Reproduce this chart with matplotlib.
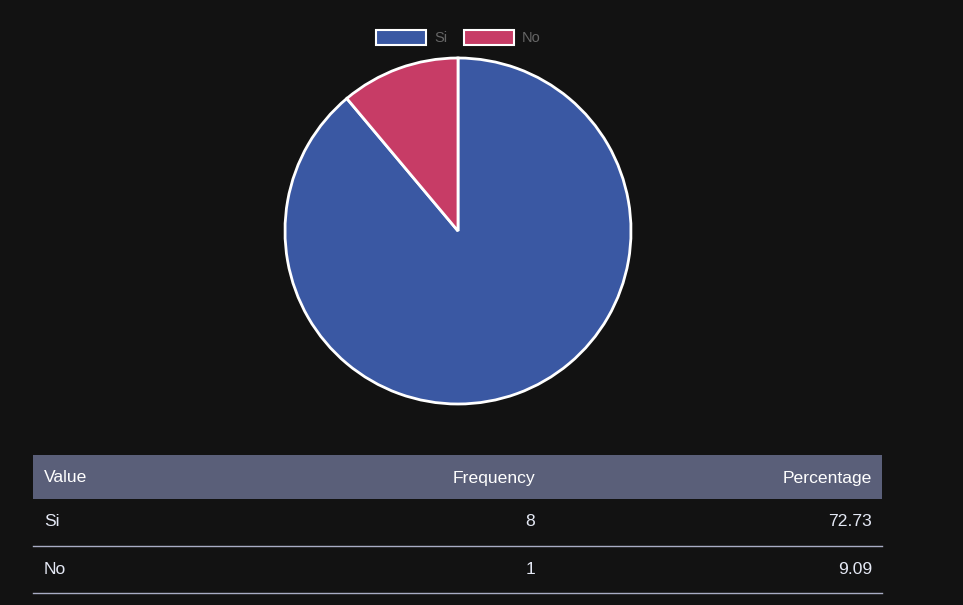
import matplotlib.pyplot as plt
from matplotlib.patches import Rectangle

# data
labels = ['Si', 'No']
freq = [8, 1]
pct = [72.73, 9.09]
colors = ['#3a58a3', '#c73c66']

W, H = 963, 605
plt.rcParams['font.family'] = ['Liberation Sans', 'DejaVu Sans']
fig = plt.figure(figsize=(W / 100, H / 100), dpi=100, facecolor='#121212')

# overlay axes in pixel coords (y down)
ax = fig.add_axes([0, 0, 1, 1])
ax.set_xlim(0, W)
ax.set_ylim(H, 0)
ax.axis('off')

#%% pie
cx, cy, r = 458, 231, 173
pad = 6
pax = fig.add_axes([(cx - r - pad) / W, (H - cy - r - pad) / H,
                    2 * (r + pad) / W, 2 * (r + pad) / H])
pax.pie(freq, colors=colors, startangle=90, counterclock=False,
        radius=r, wedgeprops=dict(edgecolor='white', linewidth=2))
pax.set_xlim(-r - pad, r + pad)
pax.set_ylim(-r - pad, r + pad)
pax.set_aspect('equal')
pax.axis('off')

#%% legend
lx = [376, 464]
for i, lab in enumerate(labels):
    ax.add_patch(Rectangle((lx[i], 30), 50, 15, facecolor=colors[i],
                           edgecolor='white', linewidth=1.5))
    ax.text(lx[i] + 58, 38, lab, color='#666666', fontsize=10.5,
            va='center', ha='left')

#%% table
x0, x1 = 33, 882
fs = 12.6
ax.add_patch(Rectangle((x0, 455), x1 - x0, 44, facecolor='#5a5f79',
                       edgecolor='none'))
hy = 478
ax.text(44, hy, 'Value', color='white', fontsize=fs, va='center', ha='left')
ax.text(535, hy, 'Frequency', color='white', fontsize=fs, va='center', ha='right')
ax.text(872, hy, 'Percentage', color='white', fontsize=fs, va='center', ha='right')

row_h = 47
for i, lab in enumerate(labels):
    y = 522 + i * row_h
    tc = '#e4e8f4'
    ax.text(44, y, lab, color=tc, fontsize=fs, va='center', ha='left')
    ax.text(535, y, str(freq[i]), color=tc, fontsize=fs, va='center', ha='right')
    ax.text(872, y, '%.2f' % pct[i], color=tc, fontsize=fs, va='center', ha='right')
    ax.plot([x0, x1], [y + 23.5, y + 23.5], color='#a8acc4', linewidth=1)

fig.savefig('out.png', dpi=100, facecolor='#121212')
